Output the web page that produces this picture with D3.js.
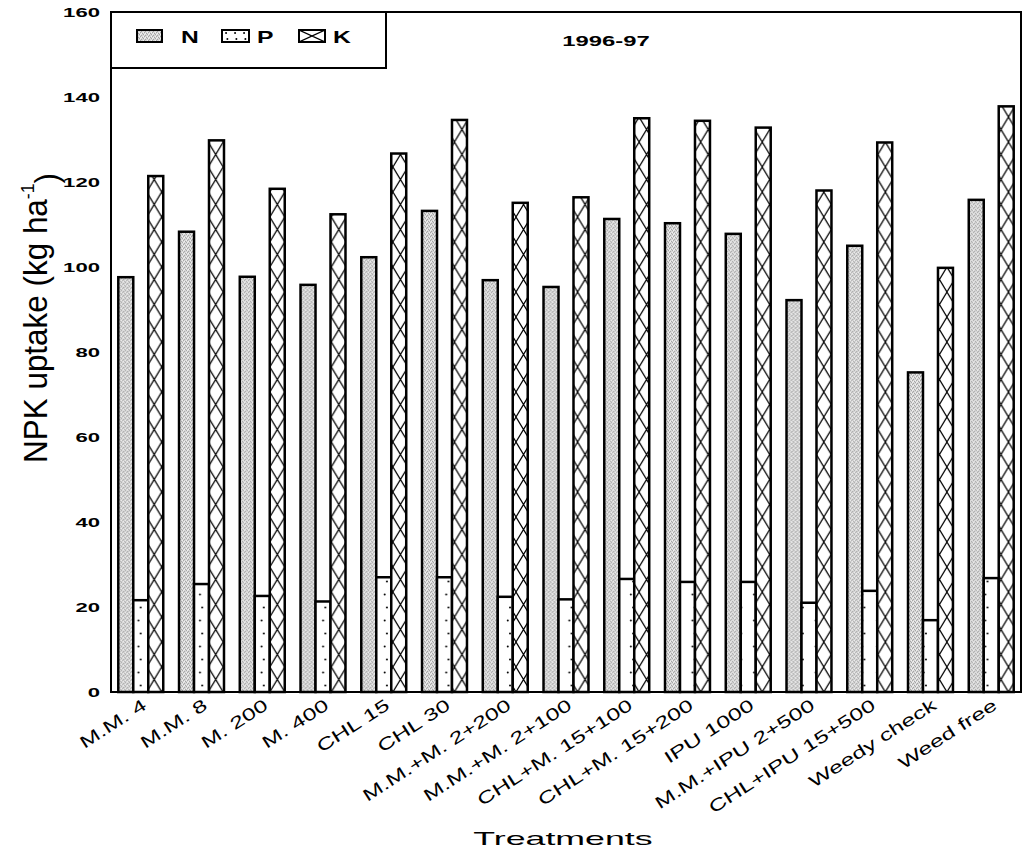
<!DOCTYPE html>
<html>
<head>
<meta charset="utf-8">
<script src="https://cdn.jsdelivr.net/npm/d3@7"></script>
<style>
    body { margin: 0; background: #fff; }
    svg { display: block; }
    text { font-family: "Liberation Sans", Arial, sans-serif; fill: #000; }
</style>
</head>
<body>
<svg id="chart" width="1024" height="861"></svg>
<script>
// data (kg/ha)
const treatments = ["M.M. 4", "M.M. 8", "M. 200", "M. 400", "CHL 15", "CHL 30", "M.M.+M. 2+200",
    "M.M.+M. 2+100", "CHL+M. 15+100", "CHL+M. 15+200", "IPU 1000", "M.M.+IPU 2+500",
    "CHL+IPU 15+500", "Weedy check", "Weed free"];
const nUptake = [97.6, 108.3, 97.7, 95.8, 102.3, 113.2, 96.9, 95.3, 111.3, 110.3, 107.8, 92.2, 105.0, 75.2, 115.8];
const pUptake = [21.6, 25.4, 22.6, 21.3, 27.0, 27.0, 22.4, 21.8, 26.6, 25.9, 25.9, 21.0, 23.8, 16.9, 26.8];
const kUptake = [121.4, 129.8, 118.4, 112.4, 126.7, 134.6, 115.1, 116.4, 135.0, 134.4, 132.8, 118.0, 129.3, 99.8, 137.8];
const nutrients = ["N", "P", "K"];
const yTicks = [0, 20, 40, 60, 80, 100, 120, 140, 160];
const season = "1996-97";

const svg = d3.select("#chart");
const plotLeft = 111, plotRight = 1021, plotTop = 12, plotBottom = 692;

const x = d3.scaleBand().domain(treatments).range([plotLeft, plotRight]).paddingInner(0.26).paddingOuter(0.12);
const xs = d3.scaleBand().domain(nutrients).range([0, x.bandwidth()]);
const y = d3.scaleLinear().domain([0, 160]).range([plotBottom, plotTop]);
const bw = xs.bandwidth();

// stretch text horizontally (the original uses a wide face)
function stretch(sel, factor) {
    sel.each(function () {
        const w = this.getComputedTextLength();
        d3.select(this).attr("textLength", w * factor).attr("lengthAdjust", "spacingAndGlyphs");
    });
}

const defs = svg.append("defs");

// N: grey stipple
const patN = defs.append("pattern").attr("id", "patN").attr("patternUnits", "userSpaceOnUse")
    .attr("width", 4).attr("height", 4);
patN.append("rect").attr("width", 4).attr("height", 4).attr("fill", "#d6d6d6");
[[0, 0], [2, 1], [1, 3], [3, 2]].forEach(p => patN.append("rect").attr("x", p[0]).attr("y", p[1])
    .attr("width", 1).attr("height", 1).attr("fill", "#a4a4a4"));
[[1, 1], [3, 0], [0, 2]].forEach(p => patN.append("rect").attr("x", p[0]).attr("y", p[1])
    .attr("width", 1).attr("height", 1).attr("fill", "#f2f2f2"));

// P: sparse dots, K: cross hatch; one tile per bar so it lines up with the bar
function dotPattern(id, x0, y0, w, h) {
    const p = defs.append("pattern").attr("id", id).attr("patternUnits", "userSpaceOnUse")
        .attr("x", x0).attr("y", y0).attr("width", w).attr("height", h);
    p.append("rect").attr("width", w).attr("height", h).attr("fill", "#fff");
    p.append("circle").attr("cx", w * 0.45).attr("cy", h * 0.25).attr("r", 1).attr("fill", "#000");
    p.append("circle").attr("cx", w * 0.6).attr("cy", h * 0.75).attr("r", 1).attr("fill", "#000");
}
function crossPattern(id, x0, y0, w, h) {
    const p = defs.append("pattern").attr("id", id).attr("patternUnits", "userSpaceOnUse")
        .attr("x", x0).attr("y", y0).attr("width", w).attr("height", h);
    p.append("rect").attr("width", w).attr("height", h).attr("fill", "#fff");
    p.append("path").attr("d", `M0,0L${w},${h}M${w},0L0,${h}`).attr("stroke", "#000").attr("stroke-width", 1.2);
}
treatments.forEach((t, i) => {
    dotPattern("patP" + i, x(t) + xs("P"), plotBottom, bw, 26);
    crossPattern("patK" + i, x(t) + xs("K"), plotBottom, bw, 25);
});

// bars
const rows = treatments.map((t, i) => ({t: t, i: i, N: nUptake[i], P: pUptake[i], K: kUptake[i]}));
const groups = svg.append("g").selectAll("g").data(rows).join("g")
    .attr("transform", d => `translate(${x(d.t)},0)`);
groups.selectAll("rect").data(d => nutrients.map(k => ({k: k, v: d[k], i: d.i}))).join("rect")
    .attr("x", d => xs(d.k))
    .attr("y", d => y(d.v))
    .attr("width", bw)
    .attr("height", d => y(0) - y(d.v))
    .attr("fill", d => d.k === "N" ? "url(#patN)" : `url(#pat${d.k}${d.i})`)
    .attr("stroke", "#000")
    .attr("stroke-width", 2.5);

// frame
svg.append("rect").attr("x", plotLeft).attr("y", plotTop).attr("width", plotRight - plotLeft).attr("height", plotBottom - plotTop)
    .attr("fill", "none").attr("stroke", "#000").attr("stroke-width", 2);

// y tick labels
svg.append("g").selectAll("text").data(yTicks).join("text")
    .attr("x", 100).attr("y", d => y(d)).attr("dy", "0.36em")
    .attr("text-anchor", "end").style("font-size", "13px").style("font-weight", "bold")
    .text(d => d)
    .call(stretch, 1.7);

// x labels
svg.append("g").selectAll("text").data(treatments).join("text")
    .attr("transform", d => `translate(${x(d) + x.bandwidth() / 2 + 7},708) rotate(-33)`)
    .attr("text-anchor", "end").style("font-size", "17px")
    .text(d => d)
    .call(stretch, 1.45);

// axis titles
svg.append("text").attr("x", 563).attr("y", 845).attr("text-anchor", "middle")
    .style("font-size", "19px").text("Treatments").call(stretch, 1.88);

const yTitle = svg.append("text").attr("text-anchor", "middle").style("font-size", "34px");
yTitle.append("tspan").text("NPK uptake (kg ha");
yTitle.append("tspan").attr("dy", "-0.7em").style("font-size", "19px").text("-1");
yTitle.append("tspan").attr("dy", "0.7em").text(")");
const yw = yTitle.node().getComputedTextLength();
yTitle.attr("transform", `translate(47,318) rotate(-90) scale(${290 / yw},1)`);

// legend
svg.append("rect").attr("x", plotLeft).attr("y", plotTop).attr("width", 275).attr("height", 56)
    .attr("fill", "#fff").attr("stroke", "#000").attr("stroke-width", 2);
dotPattern("legP", 222, 30, 9, 12);
crossPattern("legK", 299, 30, 26, 12);
const legItems = [
    {k: "N", sx: 137, sw: 25, tx: 181, fill: "url(#patN)"},
    {k: "P", sx: 222, sw: 27, tx: 257, fill: "url(#legP)"},
    {k: "K", sx: 299, sw: 26, tx: 333, fill: "url(#legK)"}
];
const leg = svg.append("g").selectAll("g").data(legItems).join("g");
leg.append("rect").attr("x", d => d.sx).attr("y", 30).attr("width", d => d.sw).attr("height", 12)
    .attr("fill", d => d.fill).attr("stroke", "#000").attr("stroke-width", 2);
leg.append("text").attr("x", d => d.tx).attr("y", 43).style("font-size", "17px").style("font-weight", "bold")
    .text(d => d.k).call(stretch, 1.45);

svg.append("text").attr("x", 606).attr("y", 46).attr("text-anchor", "middle")
    .style("font-size", "14px").style("font-weight", "bold").text(season).call(stretch, 1.7);
</script>
</body>
</html>
